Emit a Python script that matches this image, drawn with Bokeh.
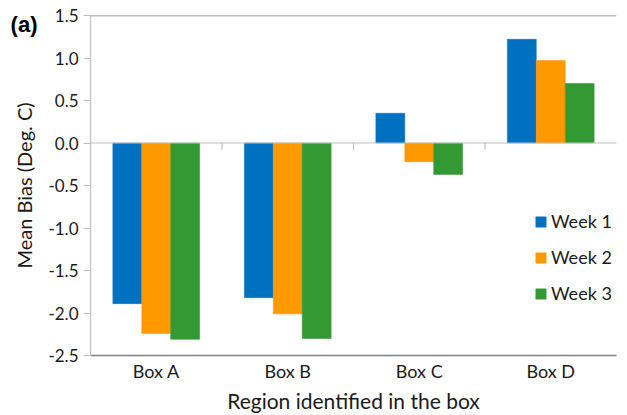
from bokeh.plotting import figure
from bokeh.models import (ColumnDataSource, FactorRange, Range1d, Span, LinearAxis,
                          Legend, LegendItem, FixedTicker, NumeralTickFormatter)
from bokeh.transform import dodge
from bokeh.embed import file_html
from bokeh.resources import INLINE

# ---- data ----
boxes = ["Box A", "Box B", "Box C", "Box D"]
week1 = [-1.89, -1.82, 0.35, 1.22]
week2 = [-2.24, -2.01, -0.22, 0.97]
week3 = [-2.31, -2.30, -0.37, 0.70]
series_names = ["Week 1", "Week 2", "Week 3"]
y_ticks = [-2.5, -2.0, -1.5, -1.0, -0.5, 0.0, 0.5, 1.0, 1.5]
panel_tag = "(a)"
panel_tag_y = 1.40

# ---- styles ----
colors = ["#0070C0", "#FF9900", "#339933"]
FONT = "Lato"
TXT = "#1a1a1a"

source = ColumnDataSource(dict(box=boxes, w1=week1, w2=week2, w3=week3))

p = figure(width=627, height=415, x_range=FactorRange(*boxes),
           y_range=Range1d(-2.5, 1.5), output_backend="svg",
           toolbar_location=None, min_border_left=90, min_border_right=11,
           min_border_top=15, min_border_bottom=40)
p.outline_line_color = None
p.xgrid.grid_line_color = None
p.ygrid.grid_line_color = None

bw = 0.22
renderers = []
for col, off, c in zip(["w1", "w2", "w3"], [-bw, 0.0, bw], colors):
    r = p.vbar(x=dodge("box", off, range=p.x_range), top=col, bottom=0,
               width=bw, source=source, fill_color=c, line_color=c,
               line_width=0.5)
    renderers.append(r)

# zero line and category separator ticks
p.add_layout(Span(location=0, dimension="width", line_color="#BFBFBF", line_width=1.2))
p.add_layout(Span(location=1.5, dimension="width", line_color="#7F7F7F", line_width=1.5))
sep = ColumnDataSource(dict(box=boxes[:-1]))
p.segment(x0=dodge("box", 0.5, range=p.x_range), x1=dodge("box", 0.5, range=p.x_range),
          y0=0, y1=-0.08, source=sep, line_color="#BFBFBF", line_width=1.2)

# y axis (ticks + labels)
ya = p.yaxis[0]
ya.ticker = FixedTicker(ticks=y_ticks)
ya.formatter = NumeralTickFormatter(format="0.0")
ya.axis_line_color = "#BFBFBF"
ya.axis_line_width = 1.2
ya.major_tick_line_color = "#BFBFBF"
ya.major_tick_in = 0
ya.major_tick_out = 7
ya.minor_tick_line_color = None
ya.major_label_text_font = FONT
ya.major_label_text_font_size = "17px"
ya.major_label_text_color = TXT
ya.major_label_standoff = 5

# outer left axis: carries the "(a)" tag and the y title
ya2 = LinearAxis(ticker=FixedTicker(ticks=[panel_tag_y]),
                 major_label_overrides={panel_tag_y: panel_tag})
ya2.axis_line_color = None
ya2.major_tick_line_color = None
ya2.minor_tick_line_color = None
ya2.major_tick_in = 0
ya2.major_tick_out = 0
ya2.major_label_standoff = 8
ya2.major_label_text_font = "Liberation Sans"
ya2.major_label_text_font_style = "bold"
ya2.major_label_text_font_size = "22px"
ya2.major_label_text_color = "#000000"
ya2.axis_label = "Mean Bias (Deg. C)"
ya2.axis_label_text_font = FONT
ya2.axis_label_text_font_size = "20px"
ya2.axis_label_text_font_style = "normal"
ya2.axis_label_text_color = TXT
ya2.axis_label_standoff = -28
p.add_layout(ya2, "left")

# x axis
xa = p.xaxis[0]
xa.axis_line_color = "#7F7F7F"
xa.axis_line_width = 1.5
xa.major_tick_line_color = None
xa.major_tick_in = 0
xa.major_tick_out = 0
xa.minor_tick_line_color = None
xa.major_label_text_font = FONT
xa.major_label_text_font_size = "18px"
xa.major_label_text_color = TXT
xa.major_label_standoff = 4
xa.axis_label = "Region identified in the box"
xa.axis_label_text_font = FONT
xa.axis_label_text_font_size = "21px"
xa.axis_label_text_font_style = "normal"
xa.axis_label_text_color = TXT
xa.axis_label_standoff = 3

legend = Legend(items=[LegendItem(label=n, renderers=[r]) for n, r in zip(series_names, renderers)],
                location=(444, 51), border_line_color=None, background_fill_alpha=0,
                glyph_width=13, glyph_height=13, label_text_font=FONT,
                label_text_font_size="18px", label_text_color=TXT,
                label_height=22, spacing=14, padding=0, margin=0, label_standoff=4)
p.add_layout(legend)

open("out.html", "w").write(file_html(p, INLINE))
